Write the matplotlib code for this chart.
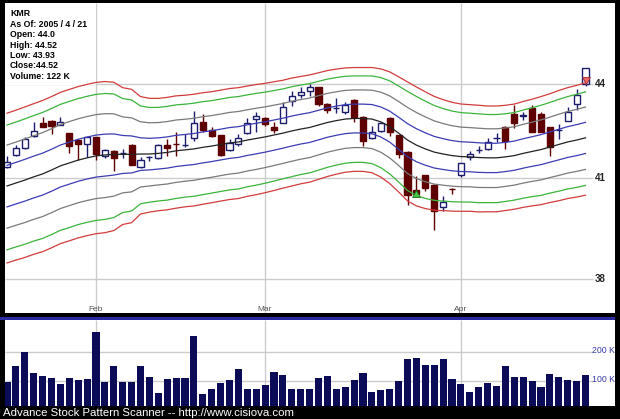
import numpy as np
import matplotlib
matplotlib.use("Agg")
import matplotlib.pyplot as plt
from matplotlib.patches import Rectangle
from matplotlib.ticker import NullLocator
import matplotlib.transforms as mtransforms

# =========================
# DATA  (KMR daily, 2005-01-18 .. 2005-04-21)
# =========================
ticker = "KMR"
as_of = "2005 / 4 / 21"
months = ["Feb", "Mar", "Apr"]
month_start_idx = [10, 29, 51]

opens = [41.31, 41.71, 41.92, 42.29, 42.72, 42.79, 42.66, 42.38, 42.17, 42.04,
         42.26, 41.68, 41.83, 41.76, 42.01, 41.31, 41.64, 41.59, 42.01, 42.05,
         42.00, 42.23, 42.75, 42.50, 42.32, 41.86, 42.04, 42.38, 42.85, 42.88,
         42.60, 42.72, 43.43, 43.62, 43.75, 43.88, 43.33, 43.20, 43.07, 43.46,
         42.91, 42.23, 42.47, 42.88, 42.32, 41.80, 40.62, 41.07, 40.77, 40.11,
         40.66, 41.07, 41.65, 41.85, 41.89, 42.22, 42.60, 43.01, 42.95, 43.20,
         43.01, 42.57, 42.49, 42.79, 43.33, 44.0]
highs = [41.68, 42.01, 42.26, 42.75, 42.91, 42.80, 42.91, 42.40, 42.20, 42.28,
         42.28, 41.89, 41.85, 41.89, 42.03, 41.65, 41.68, 42.03, 42.20, 42.44,
         42.35, 43.10, 43.01, 42.60, 42.34, 42.20, 42.35, 42.88, 43.07, 42.90,
         42.75, 43.39, 43.75, 43.88, 43.98, 43.90, 43.35, 43.52, 43.39, 43.48,
         42.93, 42.63, 42.74, 42.90, 42.34, 41.82, 41.04, 41.09, 40.79, 40.44,
         40.67, 41.46, 41.83, 41.98, 42.23, 42.38, 42.62, 43.30, 43.07, 43.30,
         43.07, 42.59, 42.69, 43.23, 43.82, 44.52]
lows = [41.28, 41.68, 41.89, 42.28, 42.58, 42.35, 42.64, 41.77, 41.53, 41.65,
        41.53, 41.62, 41.19, 41.62, 41.38, 41.30, 41.50, 41.56, 41.68, 41.68,
        41.95, 42.14, 42.44, 42.26, 41.68, 41.83, 41.98, 42.35, 42.44, 42.63,
        42.38, 42.70, 43.26, 43.52, 43.59, 43.26, 43.04, 43.04, 43.01, 42.75,
        41.98, 42.21, 42.41, 42.29, 41.59, 40.17, 40.41, 40.59, 39.40, 39.99,
        40.50, 41.01, 41.53, 41.77, 41.86, 42.11, 41.89, 42.54, 42.82, 42.42,
        42.42, 41.68, 42.20, 42.77, 43.14, 43.93]
closes = [41.47, 41.92, 42.20, 42.47, 42.60, 42.63, 42.75, 41.98, 42.04, 42.26,
          41.74, 41.86, 41.62, 41.77, 41.40, 41.53, 41.65, 42.01, 41.92, 42.04,
          42.01, 42.72, 42.50, 42.29, 41.71, 42.08, 42.23, 42.72, 42.95, 42.69,
          42.50, 43.23, 43.59, 43.72, 43.88, 43.33, 43.14, 43.21, 43.30, 42.91,
          42.14, 42.44, 42.72, 42.44, 41.74, 40.47, 40.50, 40.68, 39.99, 40.26,
          40.65, 41.44, 41.74, 41.86, 42.11, 42.23, 42.14, 42.72, 42.96, 42.44,
          42.44, 41.95, 42.50, 43.07, 43.62, 44.52]
volumes_k = [98, 153, 199, 127, 117, 111, 90, 111, 103, 107,
             269, 98, 153, 96, 98, 153, 113, 59, 107, 111,
             111, 255, 54, 71, 94, 103, 141, 72, 72, 85,
             131, 121, 72, 72, 72, 111, 118, 72, 78, 103,
             127, 63, 69, 72, 101, 175, 180, 155, 155, 175,
             107, 89, 63, 78, 93, 83, 151, 113, 113, 101,
             78, 124, 113, 103, 101, 122]

# band centre line and band unit (price)
center = [40.74, 40.83, 40.92, 41.02, 41.11, 41.23, 41.36, 41.45, 41.54, 41.61,
          41.67, 41.70, 41.72, 41.72, 41.72, 41.73, 41.73, 41.75, 41.78, 41.83,
          41.86, 41.89, 41.94, 41.98, 42.03, 42.08, 42.11, 42.17, 42.22, 42.27,
          42.33, 42.39, 42.46, 42.52, 42.57, 42.65, 42.73, 42.79, 42.84, 42.86,
          42.86, 42.84, 42.75, 42.60, 42.39, 42.17, 42.01, 41.89, 41.79, 41.73,
          41.68, 41.65, 41.64, 41.62, 41.61, 41.61, 41.64, 41.68, 41.75, 41.81,
          41.87, 41.95, 42.03, 42.11, 42.17, 42.24]
band_unit = [0.636, 0.638, 0.642, 0.644, 0.648, 0.650, 0.652, 0.654, 0.655, 0.656,
             0.657, 0.657, 0.645, 0.595, 0.580, 0.511, 0.495, 0.489, 0.490, 0.490,
             0.487, 0.488, 0.488, 0.486, 0.486, 0.487, 0.487, 0.485, 0.485, 0.482,
             0.480, 0.477, 0.478, 0.476, 0.476, 0.474, 0.472, 0.469, 0.466, 0.464,
             0.464, 0.470, 0.482, 0.496, 0.509, 0.523, 0.521, 0.510, 0.496, 0.483,
             0.473, 0.466, 0.463, 0.463, 0.459, 0.459, 0.457, 0.457, 0.461, 0.465,
             0.472, 0.476, 0.483, 0.487, 0.491, 0.495]
band_mult = [1, 2, 3, 3.6]
band_colors = ["#3c3cb4", "#7a7a7a", "#3cb43c", "#d23c3c"]

price_ticks = [38, 41, 44]
vol_ticks = [100, 200]
buy_idx = 46
sell_idx = 65

# =========================
# LAYOUT (pixels)
# =========================
W, H = 620, 419
X0_DAY_PX, DAY_PX = 7, 8.9
PANEL_L, PANEL_R = 5, 615
P_TOP, P_BOT = 3, 313
V_TOP, V_BOT = 320, 406


def fig_rect(l, t, r, b):
    return [l / W, (H - b) / H, (r - l) / W, (b - t) / H]


def px_to_day(x):
    return (x - X0_DAY_PX) / DAY_PX


def px_to_axfrac(y):
    return (P_BOT - y) / (P_BOT - P_TOP)


days = np.arange(len(closes))
o, h, l, c = map(np.array, (opens, highs, lows, closes))

fig = plt.figure(figsize=(W / 100, H / 100), dpi=100, facecolor="black")
plt.rcParams["font.family"] = ["Liberation Sans", "DejaVu Sans"]

# =========================
# PRICE PANEL
# =========================
ax = fig.add_axes(fig_rect(PANEL_L, P_TOP, PANEL_R, P_BOT))
ax.set_facecolor("white")
ax.set_yscale("log")
k = np.log(44 / 41) / 94.0
ax.set_ylim(44 * np.exp(-k * (P_BOT - 83.5)), 44 * np.exp(k * (83.5 - P_TOP)))
ax.set_xlim(px_to_day(PANEL_L), px_to_day(PANEL_R))
ax.xaxis.set_major_locator(NullLocator())
ax.yaxis.set_major_locator(NullLocator())
ax.yaxis.set_minor_locator(NullLocator())
for s in ax.spines.values():
    s.set_visible(False)

grid_end = px_to_day(593)
ax.hlines(price_ticks, px_to_day(PANEL_L), grid_end, color="#cccccc", lw=1, zorder=0)
ax.vlines(month_start_idx, *ax.get_ylim(), color="#cccccc", lw=1, zorder=0)

trans = mtransforms.blended_transform_factory(ax.transData, ax.transAxes)
for m, i in zip(months, month_start_idx):
    ax.text(i, px_to_axfrac(309), m, transform=trans, ha="center",
            va="center", fontsize=6, color="#555555")
for p in price_ticks:
    ax.text(px_to_day(600), p, str(p), ha="center", va="center", fontsize=7,
            fontweight="bold", color="#222222")

# info box background (hides the grid under the text)
box_y0 = px_to_axfrac(84.8)
ax.add_patch(Rectangle((px_to_day(PANEL_L), box_y0),
                       px_to_day(95.5) - px_to_day(PANEL_L), 1 - box_y0,
                       transform=trans, facecolor="white", edgecolor="none",
                       zorder=0.5))

# candles
up = c >= o
wick_col = np.where(up, "#1c1c6c", "#5e0000")
ax.vlines(days, l, h, colors=wick_col, lw=1, zorder=2)
body_bot = np.minimum(o, c)
body_h = np.maximum(np.abs(c - o), 0.004)
ax.bar(days[up], body_h[up], bottom=body_bot[up], width=0.68, color="white",
       edgecolor="#1c1c6c", lw=1, zorder=3)
ax.bar(days[~up], body_h[~up], bottom=body_bot[~up], width=0.68, color="#5e0000",
       edgecolor="#5e0000", lw=1, zorder=3)

# bands
cen = np.array(center)
unit = np.array(band_unit)
for m, col in zip(band_mult, band_colors):
    ax.plot(days, cen + m * unit, color=col, lw=0.9, zorder=4)
    ax.plot(days, cen - m * unit, color=col, lw=0.9, zorder=4)
ax.plot(days, cen, color="#222222", lw=0.9, zorder=4)

# signals (tip of triangle at the open)
up_tri = [(0, 0), (-0.55, -1), (0.55, -1), (0, 0)]
dn_tri = [(0, 0), (-0.55, 1), (0.55, 1), (0, 0)]
ax.plot(buy_idx, opens[buy_idx], marker=up_tri, ms=10, mfc="#48c848",
        mec="#227722", mew=0.7, zorder=5)
ax.plot(sell_idx, opens[sell_idx], marker=dn_tri, ms=10, mfc="#f06a6a",
        mec="#aa3333", mew=0.7, zorder=5)

# =========================
# VOLUME PANEL
# =========================
ax2 = fig.add_axes(fig_rect(PANEL_L, V_TOP, PANEL_R, V_BOT))
ax2.set_facecolor("white")
ax2.set_xlim(ax.get_xlim())
ax2.set_ylim((410 - V_BOT) / 0.29, (410 - V_TOP) / 0.29)
ax2.xaxis.set_major_locator(NullLocator())
ax2.yaxis.set_major_locator(NullLocator())
for s in ax2.spines.values():
    s.set_visible(False)
ax2.hlines(vol_ticks, px_to_day(PANEL_L), grid_end, color="#cccccc", lw=1, zorder=0)
ax2.vlines(month_start_idx, *ax2.get_ylim(), color="#cccccc", lw=1, zorder=0)
ax2.bar(days, volumes_k, width=0.8, color="#0b0b58", zorder=2)
for v in vol_ticks:
    ax2.text(px_to_day(603), v + 6, f"{v} K", ha="center", va="center",
             fontsize=6.3, color="#3a3aa8")

# separator line and texts
fig.patches.append(Rectangle((0, (H - 319.5) / H), PANEL_R / W, 2.2 / H,
                             transform=fig.transFigure, facecolor="#2a2aa0",
                             edgecolor="none"))

info = [ticker, f"As Of: {as_of}", f"Open: {opens[-1]}", f"High: {highs[-1]}",
        f"Low: {lows[-1]}", f"Close:{closes[-1]}", f"Volume: {volumes_k[-1]} K"]
for i, t in enumerate(info):
    fig.text(10 / W, 1 - (14 + 10.4 * i) / H, t, ha="left", va="center",
             fontsize=6.3, fontweight="bold", color="black", zorder=10)

fig.text(3 / W, 1 - 412.5 / H, "Advance Stock Pattern Scanner -- http://www.cisiova.com",
         ha="left", va="center", fontsize=8.2, color="white")

fig.savefig("out.png", dpi=100, facecolor="black")
